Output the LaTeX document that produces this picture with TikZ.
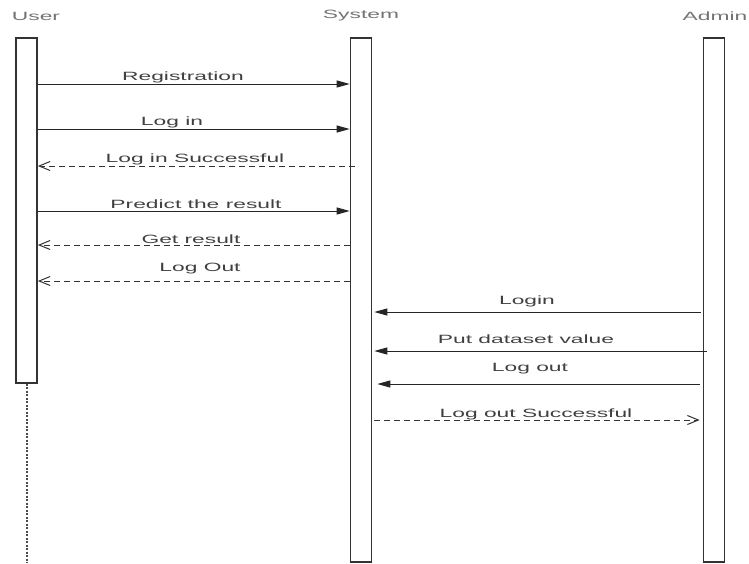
\documentclass[tikz,border=0pt]{standalone}
\usepackage{fontspec}
\usepackage{tikz}
\usetikzlibrary{arrows.meta}
\newfontfamily\lblfont[FakeStretch=1.9]{Liberation Sans}

\begin{document}
\begin{tikzpicture}[x=1pt,y=-1pt,
bar/.style={draw=black!80,line width=1.6pt,fill=white,minimum width=21pt,inner sep=0pt},
head/.style={font=\lblfont\fontsize{12}{14}\selectfont,text=black!55},
lbl/.style={font=\lblfont\fontsize{12}{14}\selectfont,text=black!75,inner sep=0pt},
call/.style={black!85,line width=1pt,-{Triangle[length=13pt,width=7pt]}},
reply/.style={black!80,line width=1pt,dash pattern=on 6pt off 4pt,-{Straight Barb[length=11pt,width=9pt]}},
]
\useasboundingbox (0,0) rectangle (749,563);

% lifelines
\node[head] (user) at (36,16) {User};
\node[head] (system) at (361,16) {System};
\node[head] (admin) at (715,16) {Admin};

\node[bar,minimum height=345pt] (ubar) at (26.5,210.5) {};
\node[bar,minimum height=524pt] (sbar) at (361,300) {};
\node[bar,minimum height=524pt] (abar) at (714,300) {};
\coordinate (uend) at (ubar.south |- 0,563);
\draw[black!70,line width=2pt,dash pattern=on 2pt off 1.5pt] (ubar.south) -- (uend);

% user <-> system
\draw[call] (ubar.east |- 0,84) -- (sbar.west |- 0,84);
\node[lbl] (reg) at (183,77) {Registration};
\draw[call] (ubar.east |- 0,129) -- (sbar.west |- 0,129);
\node[lbl] (login) at (172,122) {Log in};
\draw[reply] ([xshift=5pt]sbar.west |- 0,166) -- (ubar.east |- 0,166);
\node[lbl] (loginok) at (195,159) {Log in Successful};
\draw[call] (ubar.east |- 0,211) -- (sbar.west |- 0,211);
\node[lbl] (predict) at (196,204) {Predict the result};
\draw[reply] (sbar.west |- 0,245) -- (ubar.east |- 0,245);
\node[lbl] (getres) at (191,239) {Get result};
\draw[reply] (sbar.west |- 0,281) -- (ubar.east |- 0,281);
\node[lbl] (logoutu) at (200,269) {Log Out};

% admin <-> system
\draw[call] ([xshift=-2pt]abar.west |- 0,312) -- ([xshift=2pt]sbar.east |- 0,312);
\node[lbl] (alogin) at (527,301) {Login};
\draw[call] ([xshift=4pt]abar.west |- 0,351) -- ([xshift=2pt]sbar.east |- 0,351);
\node[lbl] (dataset) at (526,339) {Put dataset value};
\draw[call] ([xshift=-3pt]abar.west |- 0,384) -- ([xshift=5pt]sbar.east |- 0,384);
\node[lbl] (alogout) at (530,369) {Log out};
\draw[reply] ([xshift=2pt]sbar.east |- 0,420) -- ([xshift=-3pt]abar.west |- 0,420);
\node[lbl] (alogoutok) at (536,414) {Log out Successful};

\end{tikzpicture}
\end{document}
